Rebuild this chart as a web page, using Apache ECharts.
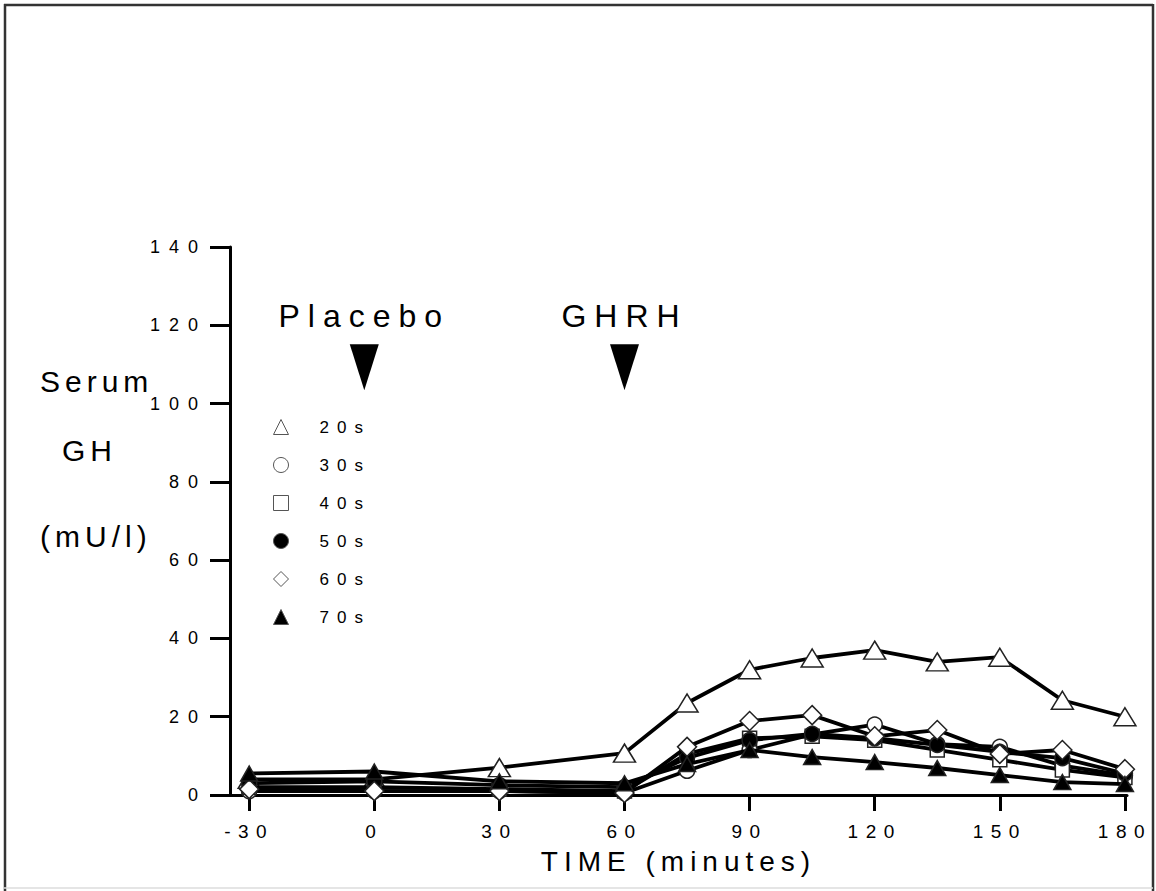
<!DOCTYPE html>
<html>
<head>
<meta charset="utf-8">
<script src="https://cdn.jsdelivr.net/npm/echarts@6/dist/echarts.min.js"></script>
<style>
  html, body { margin: 0; padding: 0; background: #fff; }
  #chart { width: 1156px; height: 891px; }
  text[style*="ytick"] { letter-spacing: 9px; }
  text[style*="xtick"] { letter-spacing: 7.5px; }
  text[style*="legtxt"] { letter-spacing: 8px; }
  text[style*="axname"] { letter-spacing: 6px; }
  text[style*="ylab"] { letter-spacing: 5px; }
  text[style*="arrlab"] { letter-spacing: 8px; }
</style>
</head>
<body>
<div id="chart"></div>
<script>
// ---- data ----
const timeMinutes = [-30, 0, 30, 60, 75, 90, 105, 120, 135, 150, 165, 180];
const xTickValues = [-30, 0, 30, 60, 90, 120, 150, 180];
const seriesNames = ['20s', '30s', '40s', '50s', '60s', '70s'];
const gh20s = [4, 4, 7, 10.7, 23.5, 32, 35, 37, 34, 35.2, 24.2, 20];
const gh30s = [1, 1, 1, 0.5, 6.2, 11.5, 15.5, 18, 13, 12.3, 7.5, 5];
const gh40s = [2, 2, 1.5, 1, 10.5, 14.5, 15, 14, 11.5, 9, 6.4, 4.5];
const gh50s = [3, 3.5, 2.5, 2, 9.5, 14, 15.6, 14.5, 12.8, 11, 9.4, 5.5];
const gh60s = [1.5, 1, 1, 0.5, 12.3, 18.9, 20.4, 15, 16.6, 10.5, 11.5, 6.6];
const gh70s = [5.5, 6, 3.5, 3, 7.9, 11.5, 9.7, 8.4, 6.9, 5.1, 3.3, 2.8];
const arrowNames = ['Placebo', 'GHRH'];
const arrowTimes = [-2.4, 60];
const arrowLevel = [109.3, 109.3];

const FONT = 'Liberation Sans';
const seriesValues = [gh20s, gh30s, gh40s, gh50s, gh60s, gh70s];
const markerStyles = [
  { symbol: 'triangle', size: [22, 18], fill: '#fff' },
  { symbol: 'circle', size: 15, fill: '#fff' },
  { symbol: 'rect', size: 14, fill: '#fff' },
  { symbol: 'circle', size: 15, fill: '#000' },
  { symbol: 'diamond', size: [19, 19], fill: '#fff' },
  { symbol: 'triangle', size: [17, 15], fill: '#000' }
];
const legendIcons = ['triangle', 'circle', 'rect', 'circle', 'diamond', 'triangle'];
const legendFills = ['#fff', '#fff', '#fff', '#000', '#fff', '#000'];

const lineSeries = seriesNames.map((name, i) => ({
  name: name,
  type: 'line',
  data: timeMinutes.map((t, j) => [t, seriesValues[i][j]]),
  symbol: markerStyles[i].symbol,
  symbolSize: markerStyles[i].size,
  showAllSymbol: true,
  lineStyle: { color: '#000', width: 3.8 },
  itemStyle: { color: markerStyles[i].fill, borderColor: '#222', borderWidth: 1.5 },
  z: 2 + i
}));

const arrowSeries = {
  name: 'arrows',
  type: 'scatter',
  data: arrowNames.map((n, i) => ({ name: n, value: [arrowTimes[i], arrowLevel[i]] })),
  symbol: 'triangle',
  symbolRotate: 180,
  symbolSize: [29, 46],
  itemStyle: { color: '#000', opacity: 1 },
  label: {
    show: true,
    position: 'top',
    distance: 12,
    formatter: p => p.name,
    color: '#000',
    fontSize: 32,
    fontFamily: FONT + ', arrlab'
  },
  z: 10
};

const chart = echarts.init(document.getElementById('chart'), null, { renderer: 'svg' });
chart.setOption({
  animation: false,
  backgroundColor: '#fff',
  grid: { left: 230, right: 29, top: 247, bottom: 96 },
  xAxis: {
    type: 'value',
    min: -34.6,
    max: 180.5,
    name: 'TIME (minutes)',
    nameLocation: 'middle',
    nameGap: 52,
    nameTextStyle: { fontSize: 28, color: '#000', fontFamily: FONT + ', axname' },
    axisLine: { show: true, onZero: false, lineStyle: { color: '#000', width: 3 } },
    axisTick: { show: true, length: 16, lineStyle: { color: '#000', width: 3 }, customValues: xTickValues },
    axisLabel: { show: true, customValues: xTickValues, margin: 27, fontSize: 19, color: '#000', fontFamily: FONT + ', xtick' },
    splitLine: { show: false }
  },
  yAxis: {
    type: 'value',
    min: 0,
    max: 140,
    interval: 20,
    axisLine: { show: true, onZero: false, lineStyle: { color: '#000', width: 3 } },
    axisTick: { show: true, length: 20, lineStyle: { color: '#000', width: 3 } },
    axisLabel: { margin: 23, fontSize: 18, color: '#000', fontFamily: FONT + ', ytick' },
    splitLine: { show: false }
  },
  legend: {
    orient: 'vertical',
    left: 268,
    top: 413,
    itemWidth: 15,
    itemHeight: 15,
    itemGap: 20,
    selectedMode: false,
    data: seriesNames.map((n, i) => ({
      name: n,
      icon: legendIcons[i],
      itemStyle: { color: legendFills[i], borderColor: '#555', borderWidth: 1 }
    })),
    textStyle: { fontSize: 17, lineHeight: 18, color: '#000', fontFamily: FONT + ', legtxt', padding: [0, 0, 0, 26] }
  },
  graphic: [
    { type: 'text', left: 40, top: 366, style: { text: 'Serum', fontSize: 30, fill: '#000', fontFamily: FONT + ', ylab' } },
    { type: 'text', left: 62, top: 435, style: { text: 'GH', fontSize: 30, fill: '#000', fontFamily: FONT + ', ylab' } },
    { type: 'text', left: 40, top: 521, style: { text: '(mU/l)', fontSize: 30, fill: '#000', fontFamily: FONT + ', ylab' } },
    { type: 'line', shape: { x1: 5, y1: 4, x2: 5, y2: 891 }, style: { stroke: '#333', lineWidth: 2.5 } },
    { type: 'line', shape: { x1: 4, y1: 5, x2: 1153, y2: 5 }, style: { stroke: '#333', lineWidth: 2.5 } },
    { type: 'line', shape: { x1: 1153, y1: 4, x2: 1153, y2: 891 }, style: { stroke: '#333', lineWidth: 2.5 } },
    { type: 'line', shape: { x1: 4, y1: 888, x2: 1153, y2: 888 }, style: { stroke: '#ddd', lineWidth: 1.5 } }
  ],
  series: lineSeries.concat([arrowSeries])
});
</script>
</body>
</html>
